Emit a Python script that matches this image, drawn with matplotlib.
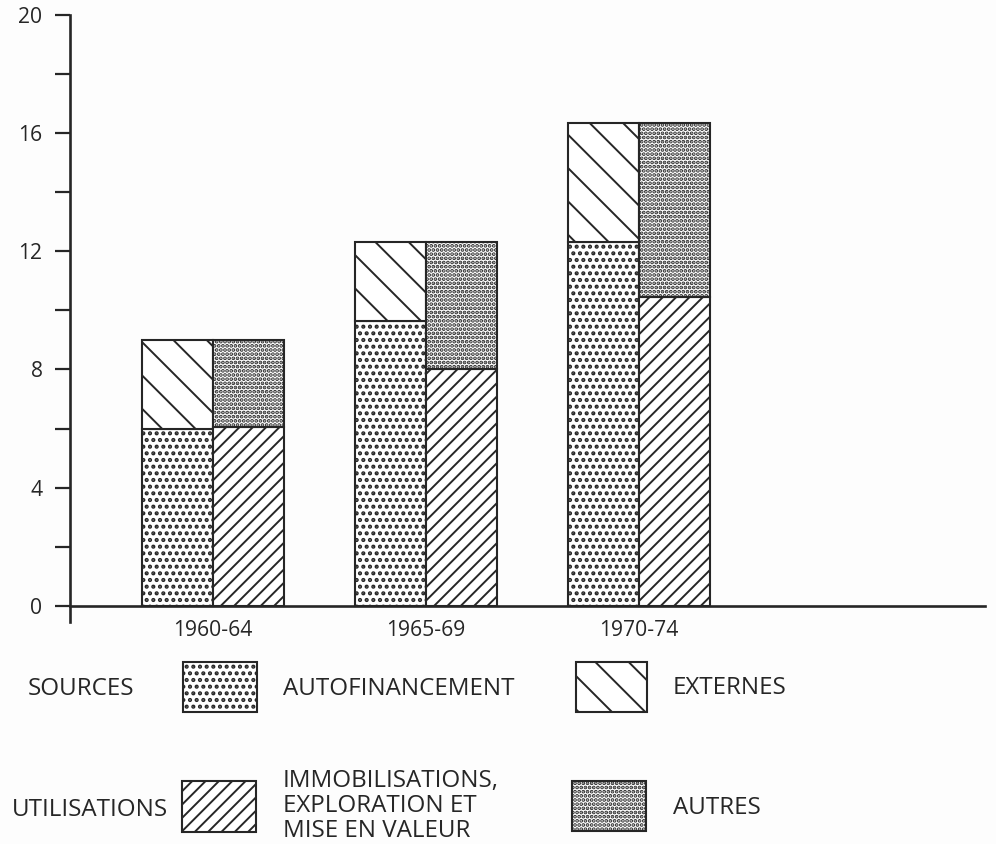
import matplotlib
matplotlib.use("Agg")
import matplotlib.pyplot as plt
from matplotlib.patches import Rectangle
import numpy as np

periods = ['1960-64', '1965-69', '1970-74']
autofinancement = [6.0, 9.65, 12.3]
externes = [3.0, 2.65, 4.05]
immobilisations = [6.05, 8.0, 10.45]
autres = [2.95, 4.3, 5.9]
yticks_major = [0, 4, 8, 12, 16, 20]
yticks_minor = [2, 6, 10, 14, 18]

INK = '#262626'
BG = '#fdfdfd'
plt.rcParams['font.family'] = ['Open Sans', 'DejaVu Sans']
plt.rcParams['hatch.linewidth'] = 0.7

DPI = 200
W, H = 996, 844
fig = plt.figure(figsize=(W / DPI, H / DPI), dpi=DPI, facecolor=BG)

def fx(px):
    return px / W

def fy(py):
    return 1 - py / H

ax = fig.add_axes([fx(70), fy(622), fx(985) - fx(70), fy(15) - fy(622)])
ax.set_facecolor(BG)

HATCH = {'auto': '.....', 'ext': '\\\\', 'immo': '/////', 'autres': '........'}
HLW = {'auto': 1.0, 'ext': 0.7, 'immo': 0.7, 'autres': 0.95}

def set_hlw(artists, lw):
    for a in artists:
        if hasattr(a, 'set_hatch_linewidth'):
            a.set_hatch_linewidth(lw)

x = np.arange(len(periods))
bw = 0.333
bar_kw = dict(width=bw, color='white', edgecolor=INK, linewidth=0.75, zorder=3)
b1 = ax.bar(x - bw / 2, autofinancement, hatch=HATCH['auto'], **bar_kw)
b2 = ax.bar(x - bw / 2, externes, bottom=autofinancement, hatch=HATCH['ext'], **bar_kw)
b3 = ax.bar(x + bw / 2, immobilisations, hatch=HATCH['immo'], **bar_kw)
b4 = ax.bar(x + bw / 2, autres, bottom=immobilisations, hatch=HATCH['autres'], **bar_kw)
set_hlw(b1, HLW['auto'])
set_hlw(b2, HLW['ext'])
set_hlw(b3, HLW['immo'])
set_hlw(b4, HLW['autres'])

ax.set_xlim(-0.671, 3.624)
ax.set_ylim(-0.55, 20)
for s in ['top', 'right']:
    ax.spines[s].set_visible(False)
ax.spines['bottom'].set_position(('data', 0))
for s in ['left', 'bottom']:
    ax.spines[s].set_color(INK)
    ax.spines[s].set_linewidth(0.95)

ax.set_yticks(yticks_major)
ax.set_yticks(yticks_minor, minor=True)
ax.set_yticklabels([str(v) for v in yticks_major])
ax.tick_params(axis='y', which='both', direction='out', length=5.4, width=0.8,
               color=INK, labelsize=7.6, labelcolor=INK, pad=4.5)
ax.set_xticks(x)
ax.set_xticklabels(periods)
ax.tick_params(axis='x', length=0, labelsize=7.6, labelcolor=INK, pad=5.0)

# legend
FS = 8.7
def legbox(x0, y0, x1, y1, key):
    r = Rectangle((fx(x0), fy(y1)), fx(x1) - fx(x0), fy(y0) - fy(y1),
                  transform=fig.transFigure, facecolor='white', edgecolor=INK,
                  linewidth=0.75, hatch=HATCH[key])
    set_hlw([r], HLW[key])
    fig.add_artist(r)

legbox(183, 662, 257, 712, 'auto')
legbox(576, 662, 647, 712, 'ext')
legbox(182, 781, 256, 832, 'immo')
legbox(572, 781, 646, 831, 'autres')

tkw = dict(fontsize=FS, color=INK, va='center', ha='left')
fig.text(fx(28), fy(689), 'SOURCES', **tkw)
fig.text(fx(283), fy(689), 'AUTOFINANCEMENT', **tkw)
fig.text(fx(673), fy(688), 'EXTERNES', **tkw)
fig.text(fx(12), fy(810), 'UTILISATIONS', **tkw)
fig.text(fx(283), fy(806), 'IMMOBILISATIONS,\nEXPLORATION ET\nMISE EN VALEUR',
         linespacing=1.07, **tkw)
fig.text(fx(673), fy(808), 'AUTRES', **tkw)

fig.savefig('out.png', dpi=DPI, facecolor=BG)
